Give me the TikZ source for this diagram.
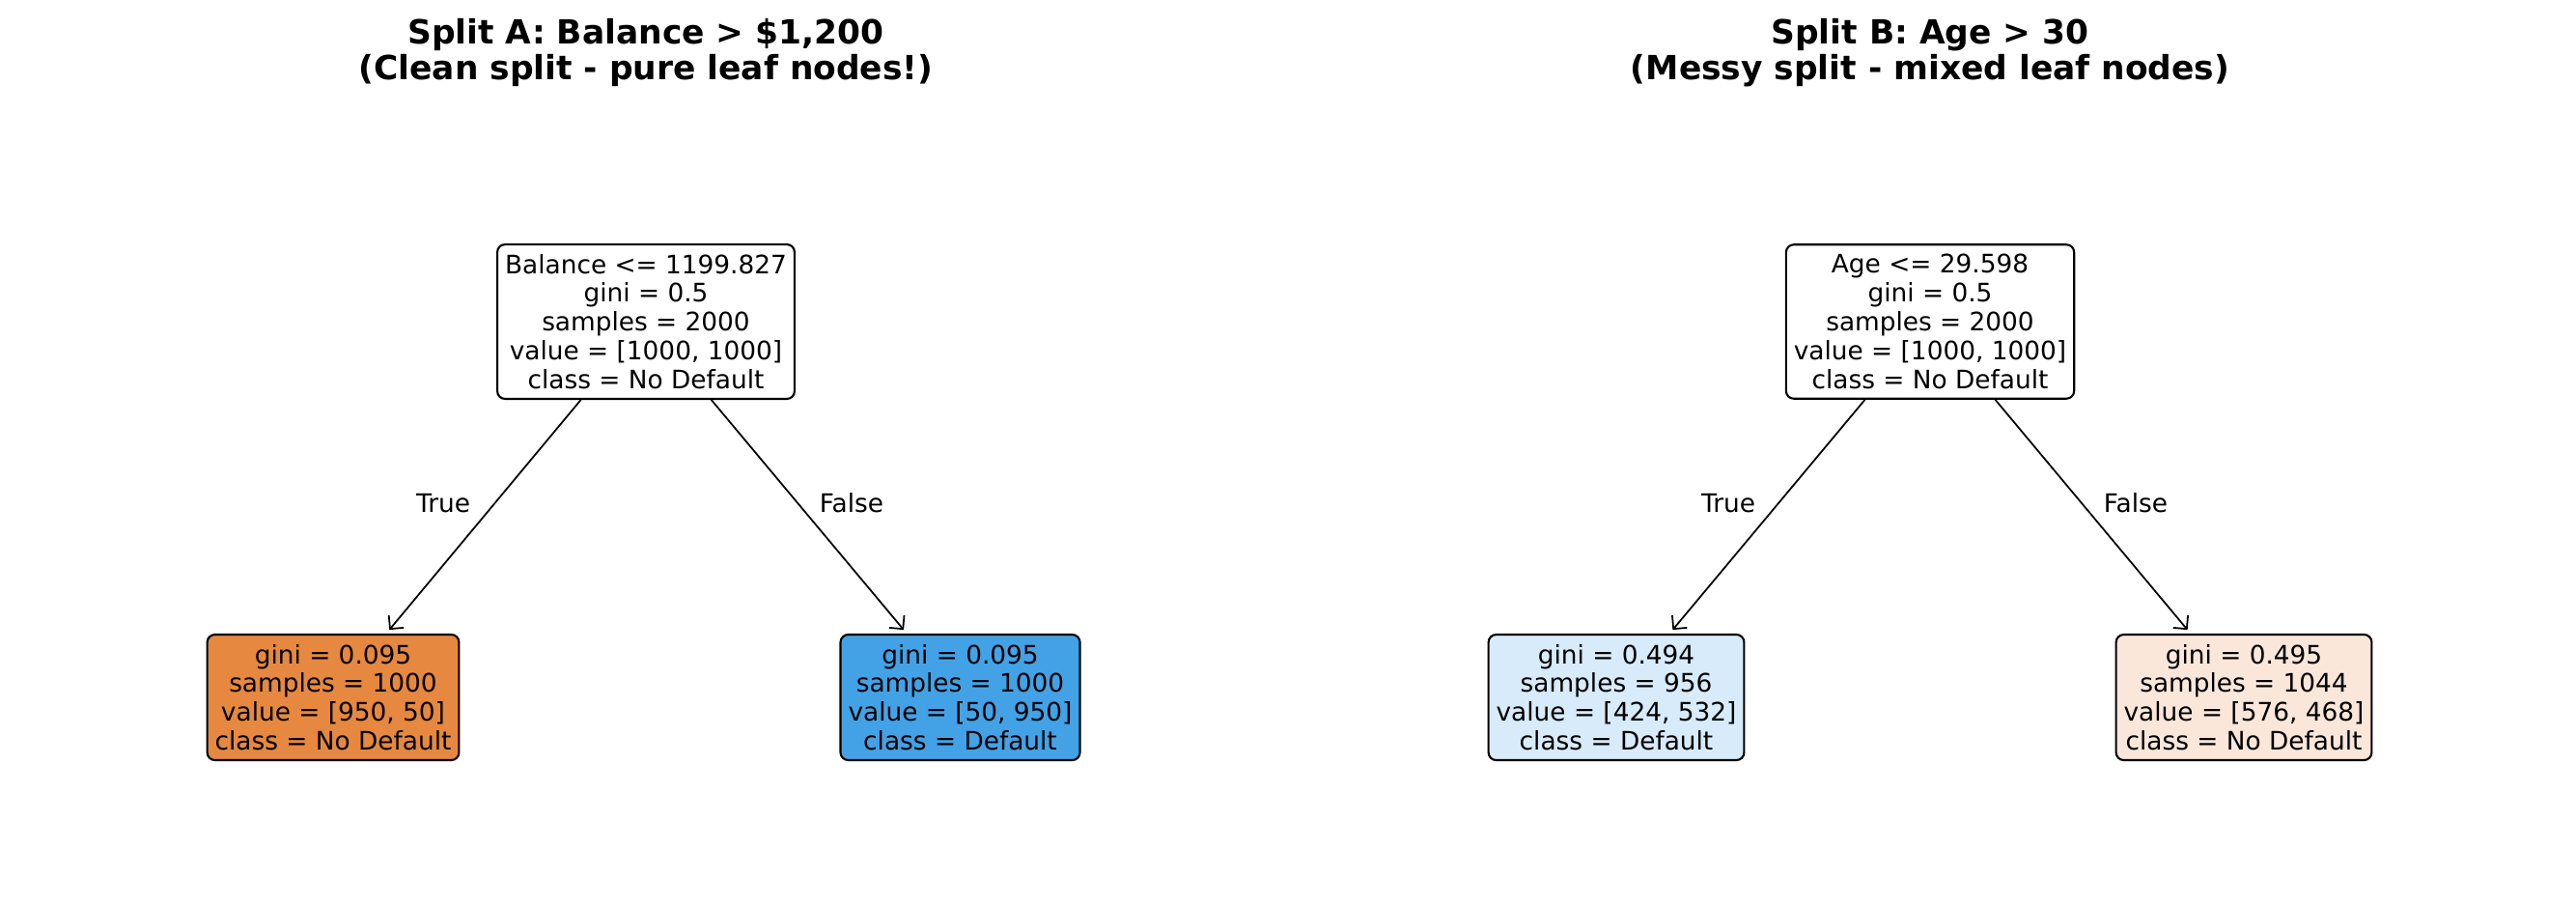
\documentclass[tikz,border=0pt]{standalone}
\usepackage{fontspec}
\setmainfont{DejaVu Sans}
\usepackage{xcolor}
\usetikzlibrary{arrows.meta, positioning}
\definecolor{pureorange}{HTML}{E6883F}
\definecolor{pureblue}{HTML}{43A2E6}
\definecolor{mixblue}{HTML}{D7EBFA}
\definecolor{mixorange}{HTML}{FAE7DA}

\begin{document}
\begin{tikzpicture}[>={Straight Barb[length=1mm, width=2mm]},
    treebox/.style={draw, line width=0.6pt, rounded corners=0.08cm, align=center,
        inner xsep=0.08cm, inner ysep=0.1cm, font=\fontsize{7.5}{8.5}\selectfont},
    edgelabel/.style={font=\fontsize{7.5}{8.5}\selectfont},
    splittitle/.style={anchor=north, align=center, inner sep=0pt,
        font=\fontsize{9.8}{10.5}\selectfont\bfseries},
    treearrow/.style={->, line width=0.5pt, shorten >=0.05cm}]
    \useasboundingbox (0, 0) rectangle (26.68, 9.37);

    % Split A: balance
    \node[splittitle] (titleA) at (6.69, 9.18) {Split A: Balance > \$1,200\\(Clean split - pure leaf nodes!)};
    \node[treebox, fill=white] (rootA) at (6.69, 6.04)
        {Balance <= 1199.827\\gini = 0.5\\samples = 2000\\value = [1000, 1000]\\class = No Default};
    \node[treebox, fill=pureorange] (leafA1) at (3.45, 2.15)
        {gini = 0.095\\samples = 1000\\value = [950, 50]\\class = No Default};
    \node[treebox, fill=pureblue] (leafA2) at (9.945, 2.15)
        {gini = 0.095\\samples = 1000\\value = [50, 950]\\class = Default};
    \draw[treearrow] (rootA) -- (leafA1);
    \draw[treearrow] (rootA) -- (leafA2);
    \node[edgelabel] (trueA) at (4.59, 4.16) {True};
    \node[edgelabel] (falseA) at (8.82, 4.16) {False};

    % Split B: age
    \node[splittitle] (titleB) at (19.99, 9.18) {Split B: Age > 30\\(Messy split - mixed leaf nodes)};
    \node[treebox, fill=white] (rootB) at (19.99, 6.04)
        {Age <= 29.598\\gini = 0.5\\samples = 2000\\value = [1000, 1000]\\class = No Default};
    \node[treebox, fill=mixblue] (leafB1) at (16.74, 2.15)
        {gini = 0.494\\samples = 956\\value = [424, 532]\\class = Default};
    \node[treebox, fill=mixorange] (leafB2) at (23.24, 2.15)
        {gini = 0.495\\samples = 1044\\value = [576, 468]\\class = No Default};
    \draw[treearrow] (rootB) -- (leafB1);
    \draw[treearrow] (rootB) -- (leafB2);
    \node[edgelabel] (trueB) at (17.90, 4.16) {True};
    \node[edgelabel] (falseB) at (22.12, 4.16) {False};
\end{tikzpicture}
\end{document}
